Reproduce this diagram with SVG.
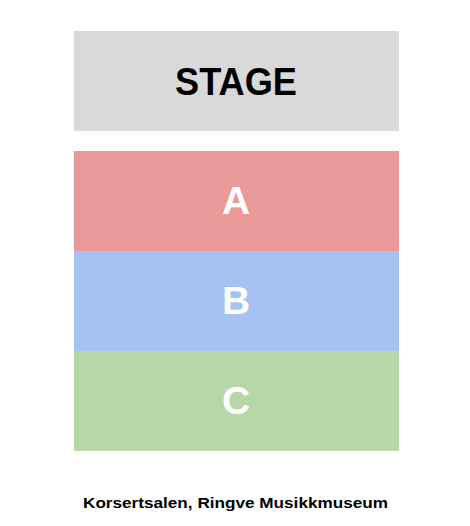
<svg xmlns="http://www.w3.org/2000/svg" width="470" height="526" viewBox="0 0 470 526">
<style>
.lbl{font-family:"Liberation Sans",Arial,sans-serif;font-weight:bold;text-anchor:middle}
.sec{font-size:39px;fill:#ffffff}
</style>
<rect width="470" height="526" fill="#ffffff"/>
<g id="stage">
<rect x="74" y="31" width="325" height="100" fill="#d9d9d9"/>
<text class="lbl" x="236" y="95" font-size="38" fill="#000000" textLength="122" lengthAdjust="spacingAndGlyphs">STAGE</text>
</g>
<g id="sectionA">
<rect x="74" y="151" width="325" height="100" fill="#ea9999"/>
<text class="lbl sec" x="236" y="214">A</text>
</g>
<g id="sectionB">
<rect x="74" y="251" width="325" height="100" fill="#a4c2f4"/>
<text class="lbl sec" x="236" y="314">B</text>
</g>
<g id="sectionC">
<rect x="74" y="351" width="325" height="100" fill="#b6d7a8"/>
<text class="lbl sec" x="236" y="414">C</text>
</g>
<g id="connectors"/>
<g id="caption">
<text class="lbl" x="235.5" y="508" font-size="15" fill="#000000" textLength="305" lengthAdjust="spacingAndGlyphs">Korsertsalen, Ringve Musikkmuseum</text>
</g>
</svg>
